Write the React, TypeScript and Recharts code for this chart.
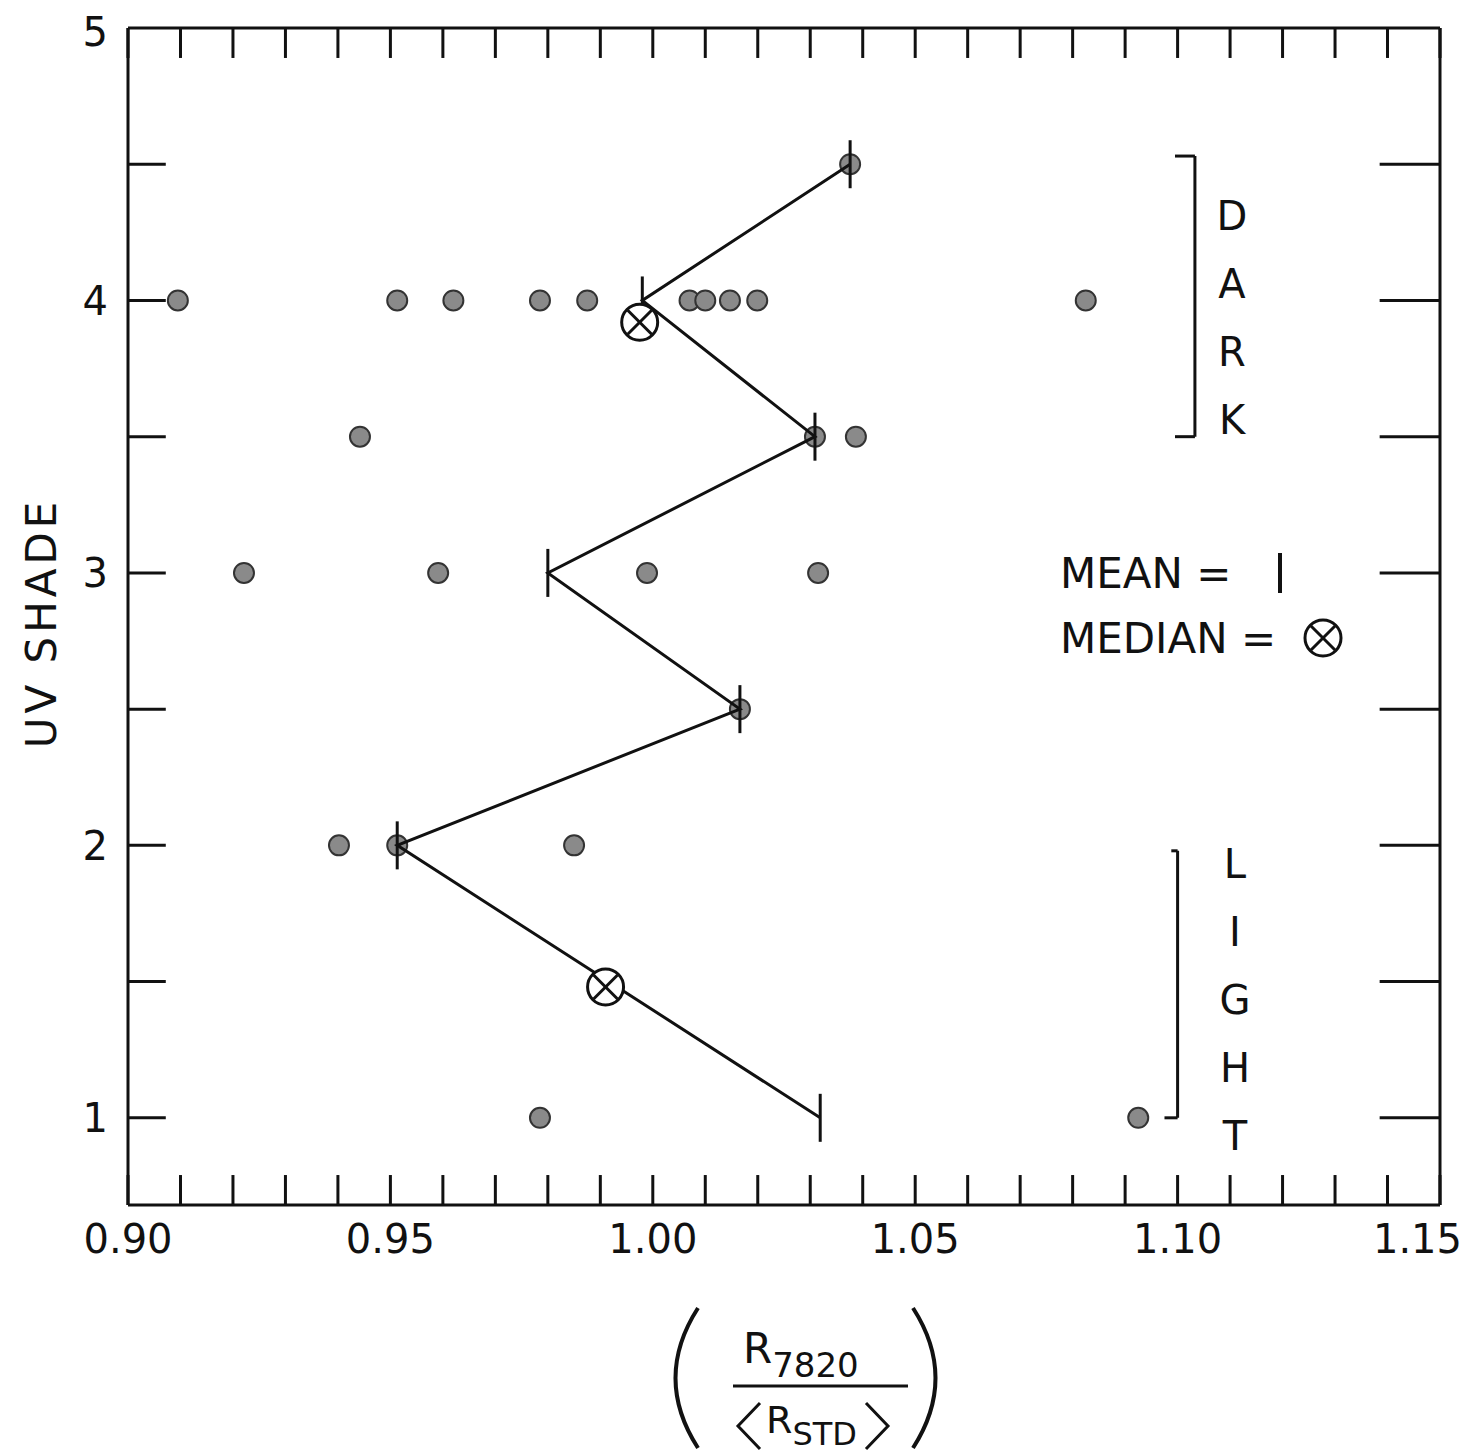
import React from 'react';
import { ScatterChart, Scatter, XAxis, YAxis, ReferenceLine } from 'recharts';

// individual measurements: [ratio, shade]
const pointX = [1.0376, 0.9095, 0.9513, 0.962, 0.9785, 0.9875, 1.007, 1.010, 1.0147, 1.0199, 1.0825,
  0.9442, 1.0309, 1.0387, 0.9221, 0.9591, 0.9989, 1.0315, 1.0166, 0.9402, 0.9513, 0.985, 0.9785, 1.0925];
const pointY = [4.5, 4, 4, 4, 4, 4, 4, 4, 4, 4, 4, 3.5, 3.5, 3.5, 3, 3, 3, 3, 2.5, 2, 2, 2, 1, 1];

const meanShade = [1, 2, 2.5, 3, 3.5, 4, 4.5];
const meanRatio = [1.0319, 0.9513, 1.0166, 0.980, 1.0309, 0.998, 1.0376];

const medianShade = [1.48, 3.92];
const medianRatio = [0.991, 0.9975];

const xLabels = [0.9, 0.95, 1.0, 1.05, 1.1, 1.15];
const xMinor = Array.from({ length: 26 }, (_, i) => +(0.9 + i * 0.01).toFixed(2));
const yTicks = [1, 2, 3, 4, 5];
const yMinor = [1, 1.5, 2, 2.5, 3, 3.5, 4, 4.5];

const points = pointX.map((x, i) => ({ x, y: pointY[i] }));
const means = meanRatio.map((x, i) => ({ x, y: meanShade[i] }));
const medians = medianRatio.map((x, i) => ({ x, y: medianShade[i] }));

const FONT = '"DejaVu Sans", sans-serif';
const Y0 = 0.68;
const X0 = 0.9;
const X1 = 1.15;

const Dot = (p: any) => (
  <circle cx={p.cx} cy={p.cy} r={10} fill="#8a8a8a" stroke="#333" strokeWidth={2} />
);
const MeanMark = (p: any) => (
  <line x1={p.cx} x2={p.cx} y1={p.cy - 24} y2={p.cy + 24} stroke="#111" strokeWidth={3} />
);
const MedianMark = (p: any) => (
  <g stroke="#111" strokeWidth={3} fill="white">
    <circle cx={p.cx} cy={p.cy} r={18} />
    <line x1={p.cx - 12} y1={p.cy - 12} x2={p.cx + 12} y2={p.cy + 12} />
    <line x1={p.cx - 12} y1={p.cy + 12} x2={p.cx + 12} y2={p.cy - 12} />
  </g>
);

const XTick = (p: any) => {
  const last = p.payload.value >= 1.149;
  return (
    <text x={last ? p.x + 22 : p.x} y={p.y + 40} fontSize={40} fill="#111" fontFamily={FONT}
      textAnchor={last ? 'end' : 'middle'}>
      {p.payload.value.toFixed(2)}
    </text>
  );
};

const ink = { stroke: '#111', strokeWidth: 3 };

export default function App() {
  return (
    <div style={{ position: 'relative', width: 1470, height: 1446, background: 'white' }}>
      <ScatterChart width={1470} height={1446} style={{ overflow: 'visible' }}
        margin={{ top: 20, right: 38, bottom: 219, left: 60 }}>
        <XAxis type="number" dataKey="x" domain={[X0, X1]} ticks={xLabels} allowDataOverflow
          tickLine={false} axisLine={false} tick={XTick} />
        <YAxis type="number" dataKey="y" domain={[Y0, 5]} ticks={yTicks} allowDataOverflow
          tickLine={false} axisLine={false} tick={{ fontSize: 40, fill: '#111', fontFamily: FONT, dx: -12 }} />
        {/* frame */}
        <ReferenceLine segment={[{ x: X0, y: Y0 }, { x: X1, y: Y0 }]} {...ink} />
        <ReferenceLine segment={[{ x: X0, y: 5 }, { x: X1, y: 5 }]} {...ink} />
        <ReferenceLine segment={[{ x: X0, y: Y0 }, { x: X0, y: 5 }]} {...ink} />
        <ReferenceLine segment={[{ x: X1, y: Y0 }, { x: X1, y: 5 }]} {...ink} />
        {xMinor.map((v) => (
          <ReferenceLine key={'b' + v} segment={[{ x: v, y: Y0 }, { x: v, y: Y0 + 0.11 }]} {...ink} />
        ))}
        {xMinor.map((v) => (
          <ReferenceLine key={'t' + v} segment={[{ x: v, y: 5 }, { x: v, y: 4.89 }]} {...ink} />
        ))}
        {yMinor.map((v) => (
          <ReferenceLine key={'l' + v} segment={[{ x: X0, y: v }, { x: X0 + 0.0072, y: v }]} {...ink} />
        ))}
        {yMinor.map((v) => (
          <ReferenceLine key={'r' + v} segment={[{ x: X1, y: v }, { x: X1 - 0.0115, y: v }]} {...ink} />
        ))}
        {/* DARK and LIGHT brackets */}
        <ReferenceLine segment={[{ x: 1.1033, y: 4.53 }, { x: 1.1033, y: 3.5 }]} {...ink} />
        <ReferenceLine segment={[{ x: 1.0995, y: 4.53 }, { x: 1.1033, y: 4.53 }]} {...ink} />
        <ReferenceLine segment={[{ x: 1.0995, y: 3.5 }, { x: 1.1033, y: 3.5 }]} {...ink} />
        <ReferenceLine segment={[{ x: 1.1, y: 1.98 }, { x: 1.1, y: 1.0 }]} {...ink} />
        <ReferenceLine segment={[{ x: 1.0988, y: 1.98 }, { x: 1.1, y: 1.98 }]} {...ink} />
        <ReferenceLine segment={[{ x: 1.0975, y: 1.0 }, { x: 1.1, y: 1.0 }]} {...ink} />
        <Scatter data={points} shape={Dot} isAnimationActive={false} />
        <Scatter data={means} line={{ stroke: '#111', strokeWidth: 3 }} shape={MeanMark} isAnimationActive={false} />
        <Scatter data={medians} shape={MedianMark} isAnimationActive={false} />
      </ScatterChart>
      <svg width={1470} height={1446} style={{ position: 'absolute', left: 0, top: 0, pointerEvents: 'none' }}
        fontFamily={FONT} fill="#111">
        <text x={48} y={615} fontSize={42} textAnchor="middle" transform="rotate(-90 48 615)" letterSpacing={4}>UV SHADE</text>
        {['D', 'A', 'R', 'K'].map((c, i) => (
          <text key={c} x={1224} y={222 + i * 68} fontSize={40} textAnchor="middle">{c}</text>
        ))}
        {['L', 'I', 'G', 'H', 'T'].map((c, i) => (
          <text key={c + i} x={1227} y={870 + i * 68} fontSize={40} textAnchor="middle">{c}</text>
        ))}
        <text x={1052} y={580} fontSize={42}>MEAN =</text>
        <line x1={1272} x2={1272} y1={545} y2={585} stroke="#111" strokeWidth={4} />
        <text x={1052} y={645} fontSize={42}>MEDIAN =</text>
        <g stroke="#111" strokeWidth={3} fill="none">
          <circle cx={1315} cy={630} r={18} />
          <line x1={1303} y1={618} x2={1327} y2={642} />
          <line x1={1303} y1={642} x2={1327} y2={618} />
        </g>
        {/* x axis label */}
        <path d="M 690 1300 Q 645 1370 690 1440" stroke="#111" strokeWidth={4} fill="none" />
        <path d="M 905 1300 Q 950 1370 905 1440" stroke="#111" strokeWidth={4} fill="none" />
        <text x={735} y={1355} fontSize={42}>R<tspan fontSize={34} dy={14}>7820</tspan></text>
        <line x1={725} x2={900} y1={1378} y2={1378} stroke="#111" strokeWidth={3} />
        <path d="M 752 1395 L 730 1418 L 752 1441" stroke="#111" strokeWidth={3} fill="none" />
        <text x={758} y={1425} fontSize={38}>R<tspan fontSize={32} dy={12}>STD</tspan></text>
        <path d="M 858 1395 L 880 1418 L 858 1441" stroke="#111" strokeWidth={3} fill="none" />
      </svg>
    </div>
  );
}
